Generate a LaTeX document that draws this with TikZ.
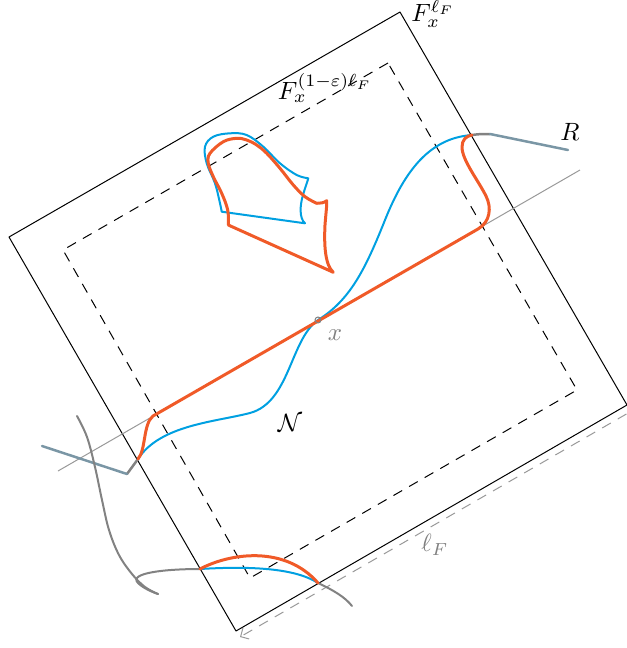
\documentclass[tikz,border=0pt]{standalone}
\usepackage{tikz}
\usetikzlibrary{arrows.meta, calc}
\definecolor{corange}{RGB}{240, 90, 40}
\definecolor{cblue}{RGB}{0, 160, 225}
\definecolor{cslate}{RGB}{122, 150, 165}
\definecolor{cgrey}{RGB}{130, 130, 130}

\begin{document}
\begin{tikzpicture}[
    x=0.4pt, y=-0.4pt,
    box/.style={draw=black, line width=0.4pt, line join=round},
    innerbox/.style={draw=black, line width=0.4pt, dash pattern=on 4pt off 3.2pt},
    measure/.style={draw=gray!80, line width=0.4pt, dash pattern=on 4pt off 3.2pt},
    axisline/.style={draw=gray!80, line width=0.4pt},
    orangeline/.style={draw=corange, line width=1.2pt, line cap=round, line join=round},
    blueline/.style={draw=cblue, line width=0.8pt, line cap=round},
    greycurve/.style={draw=cgrey, line width=0.8pt, line cap=round},
    slateline/.style={draw=cslate, line width=1pt, line cap=round},
]
    \useasboundingbox (0,0) rectangle (627,648);

    % Boxes
    \coordinate (x) at (318,320);
    \draw[box] (400,12) -- (9,237) -- (236,631) -- (627,405) -- cycle;
    \draw[innerbox] (388,63) -- (63,250) -- (250,578) -- (577,390) -- cycle;
    \draw[measure, -{Straight Barb[length=2.5pt]}] (642,405) -- (240,637);

    % Axis through x
    \coordinate (axL) at (58,471);
    \coordinate (axR) at (580,170);
    \draw[axisline] (axL) -- (axR);

    % Ends of the neighbourhood
    \coordinate (eL) at (138,459);
    \coordinate (eR) at (472,135);
    \draw[greycurve, line width=1pt] (eL) -- (127,474);
    \draw[slateline] (127,474) -- (42,446);
    \draw[greycurve, line width=1pt] (eR) .. controls (480,134) .. (490,134);
    \draw[slateline] (490,134) -- (568,150);

    % Blue curve N
    \draw[blueline] (eL) .. controls (160,425) and (215,422) .. (250,413)
        .. controls (290,402) and (290,340) .. (x)
        .. controls (350,300) and (365,270) .. (385,220)
        .. controls (405,170) and (430,138) .. (eR);

    % Orange segment
    \draw[orangeline] (eL) .. controls (146,450) and (143,424) .. (153,416) -- (478,229)
        .. controls (490,222) and (492,208) .. (486,196)
        .. controls (478,180) and (462,160) .. (462,147)
        .. controls (462,140) and (466,136) .. (eR);
    \draw[cgrey, line width=0.4pt] (x) circle[radius=1.2pt];

    % Top blob
    \draw[blueline, line join=round] (221.7,211.7) -- (305,223.3)
        .. controls (299,218) and (300,205) .. (303,195)
        .. controls (305,188) and (307,183) .. (308.3,178.3)
        -- plot[smooth, tension=0.6] coordinates {(308.3,178.3) (296.7,175) (280,163.3)
        (263.3,146.7) (246.7,135) (230,133.3) (213.3,136.7) (205,146.7) (206.7,163.3)
        (215,183.3) (220,203.3) (221.7,211.7)};
    \draw[orangeline] (228.3,225) -- (333.3,272.3)
        .. controls (325,265) and (324,245) .. (325,225)
        .. controls (326,212) and (327,205) .. (326.7,200.7)
        .. controls (324,203) and (320,203.3) .. (316.7,203.3)
        -- plot[smooth, tension=0.6] coordinates {(316.7,203.3) (305,196.7) (293.3,185)
        (280,168.3) (266.7,153.3) (256.7,145) (246.7,140) (236.7,138.3) (223.3,141.7)
        (210,153.3) (208.3,163.3) (213.3,176.7) (221.7,193.3) (227.7,210) (228.3,225)};

    % Bottom pieces
    \coordinate (bL) at (200,569);
    \coordinate (bR) at (318,583);
    \draw[greycurve] plot[smooth, tension=0.6] coordinates {(77,416) (87,437) (95,467)
        (102,500) (109,530) (119,555) (132,574) (145,587) (158,594)};
    \draw[greycurve] (bL) .. controls (165,569) and (128,573) .. (138,583)
        .. controls (143,588) and (152,592) .. (158,594);
    \draw[greycurve] (bR) .. controls (333,590) and (345,597) .. (352,606);
    \draw[blueline] (bL) .. controls (250,566) and (295,568) .. (bR);
    \draw[orangeline] (bL) .. controls (230,553) and (285,545) .. (bR);

    % Labels
    \node (Fout) at (433,14) {$F_x^{\ell_F}$};
    \node (Fin) at (325,88) {$F_x^{(1-\varepsilon)\ell_F}$};
    \node (Rlab) at (570,132) {$R$};
    \node[text=gray] (xlab) at (335,335) {$x$};
    \node (Nlab) at (290,423) {$\mathcal{N}$};
    \node[text=gray] (llab) at (435,545) {$\ell_F$};
\end{tikzpicture}
\end{document}
